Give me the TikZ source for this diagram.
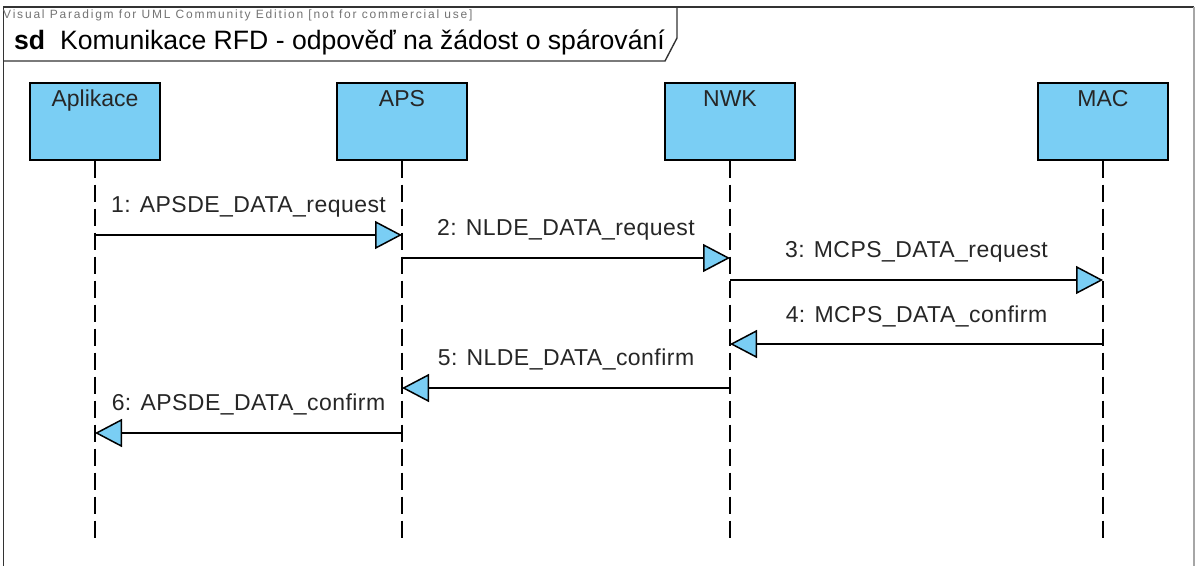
\documentclass[tikz,border=0pt]{standalone}
\usepackage{fontspec}
\setmainfont{Liberation Sans}
\newfontfamily\lblfont[LetterSpace=2]{Liberation Sans}
\newfontfamily\wmfont[LetterSpace=15]{Liberation Sans}
\usetikzlibrary{arrows.meta}
\definecolor{vpblue}{RGB}{122,206,244}
\begin{document}
\begin{tikzpicture}[x=1pt,y=-1pt,
  lifebox/.style={draw=black, line width=1.6pt, fill=vpblue, minimum width=130pt, minimum height=77pt, anchor=north, inner sep=0pt},
  lifename/.style={anchor=base, font=\fontsize{23}{23}\selectfont, text=black!85, inner sep=0pt},
  lifeline/.style={line width=1.4pt, dash pattern=on 17pt off 7pt},
  msg/.style={line width=1.5pt, -{Triangle[length=27pt, width=28pt, fill=vpblue, line width=1.5pt]}},
  msglbl/.style={anchor=base, font=\lblfont\fontsize{23}{23}\selectfont, text=black!85, inner sep=0pt},
]
\useasboundingbox (0,0) rectangle (1196,565);
% frame
\draw[line width=1.4pt, black!80] (3.5,570) -- (3.5,7) -- (1194,7);
\draw[line width=1.4pt, black!35] (1194,7) -- (1194,570);
\draw[line width=1.4pt, black!80] (3.5,61) -- (665,61) -- (677,38) -- (677,7);
\node[anchor=base west, inner sep=0pt, text=black!55, font=\wmfont\fontsize{12}{12}\selectfont] (wm) at (3,18) {Visual Paradigm for UML Community Edition [not for commercial use]};
\node[anchor=base west, inner sep=0pt, font=\fontsize{26.6}{26.6}\selectfont] (title) at (14,49) {\textbf{sd}\ \ Komunikace RFD - odpověď na žádost o spárování};
% lifeline boxes
\node[lifebox] (apl) at (95,82) {};
\node[lifebox] (aps) at (402,82) {};
\node[lifebox] (nwk) at (730,82) {};
\node[lifebox] (mac) at (1103,82) {};
\node[lifename] (aplT) at (95,106) {Aplikace};
\node[lifename] (apsT) at (402,106) {APS};
\node[lifename] (nwkT) at (730,106) {NWK};
\node[lifename] (macT) at (1103,106) {MAC};
\coordinate (aplE) at (95,540);
\coordinate (apsE) at (402,540);
\coordinate (nwkE) at (730,540);
\coordinate (macE) at (1103,540);
\draw[lifeline] (apl.south) -- (aplE);
\draw[lifeline] (aps.south) -- (apsE);
\draw[lifeline] (nwk.south) -- (nwkE);
\draw[lifeline] (mac.south) -- (macE);
% message end points
\coordinate (a1) at (apl.south |- 0,235);  \coordinate (b1) at (aps.south |- 0,235);
\coordinate (a2) at (aps.south |- 0,258);  \coordinate (b2) at (nwk.south |- 0,258);
\coordinate (a3) at (nwk.south |- 0,280);  \coordinate (b3) at (mac.south |- 0,280);
\coordinate (a4) at (mac.south |- 0,344);  \coordinate (b4) at (nwk.south |- 0,344);
\coordinate (a5) at (nwk.south |- 0,388);  \coordinate (b5) at (aps.south |- 0,388);
\coordinate (a6) at (aps.south |- 0,433);  \coordinate (b6) at (apl.south |- 0,433);
\draw[msg] (a1) -- (b1) node[msglbl, midway, yshift=23pt] (l1) {1: APSDE\_DATA\_request};
\draw[msg] (a2) -- (b2) node[msglbl, midway, yshift=23pt] (l2) {2: NLDE\_DATA\_request};
\draw[msg] (a3) -- (b3) node[msglbl, midway, yshift=23pt] (l3) {3: MCPS\_DATA\_request};
\draw[msg] (a4) -- (b4) node[msglbl, midway, yshift=22pt] (l4) {4: MCPS\_DATA\_confirm};
\draw[msg] (a5) -- (b5) node[msglbl, midway, yshift=23pt] (l5) {5: NLDE\_DATA\_confirm};
\draw[msg] (a6) -- (b6) node[msglbl, midway, yshift=23pt] (l6) {6: APSDE\_DATA\_confirm};
\end{tikzpicture}
\end{document}
